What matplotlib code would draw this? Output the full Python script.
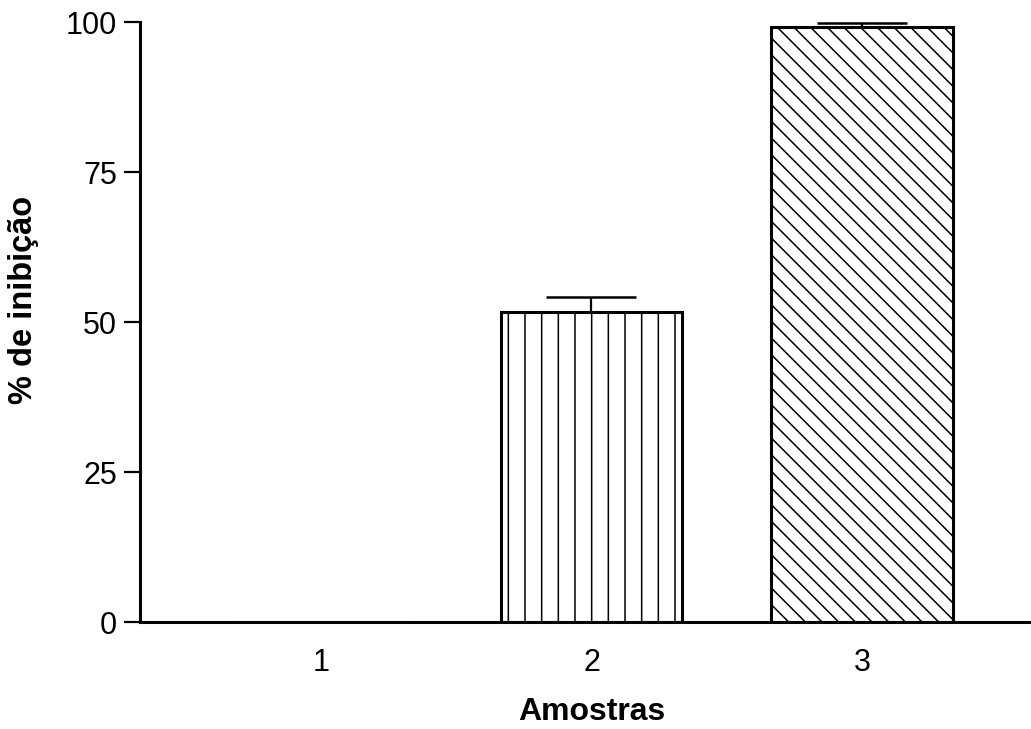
import matplotlib.pyplot as plt
import numpy as np

# dados
amostras = ["1", "2", "3"]
inibicao = [0.0, 51.7, 99.2]
erro = [0.0, 2.5, 0.6]
hachuras = ["", "|", "\\\\"]

plt.rcParams["font.family"] = ["Liberation Sans", "DejaVu Sans"]
plt.rcParams["hatch.linewidth"] = 1.1

fig = plt.figure(figsize=(10.31, 7.29), dpi=100)
ax = fig.add_axes([140 / 1031, 1 - 622 / 729, 1 - 140 / 1031, 600 / 729])

x = np.arange(1, len(amostras) + 1)
barras = ax.bar(x, inibicao, width=0.67, color="white", edgecolor="black",
                linewidth=2.2, zorder=2)
for b, h in zip(barras, hachuras):
    b.set_hatch(h)

ax.errorbar(x, inibicao, yerr=[np.zeros(len(erro)), erro], fmt="none",
            ecolor="black", elinewidth=1.6, capsize=32.4, capthick=1.8, zorder=3)

ax.set_ylim(0, 100)
ax.set_xlim(0.331, 3.625)
ax.set_yticks([0, 25, 50, 75, 100])
ax.set_xticks(x)
ax.set_xticklabels(amostras)

ax.spines["top"].set_visible(False)
ax.spines["right"].set_visible(False)
ax.spines["left"].set_linewidth(2.2)
ax.spines["bottom"].set_linewidth(2.2)
ax.tick_params(axis="y", direction="out", length=11.5, width=1.6, pad=5, labelsize=22)
ax.tick_params(axis="x", length=0, pad=19, labelsize=22)

fig.text(592 / 1031, 1 - 712 / 729, "Amostras", ha="center", va="center",
         fontsize=23, fontweight="bold")
fig.text(24 / 1031, 1 - 300 / 729, "% de inibição", ha="center", va="center",
         rotation=90, fontsize=23.5, fontweight="bold")

fig.savefig("out.png", dpi=100)
